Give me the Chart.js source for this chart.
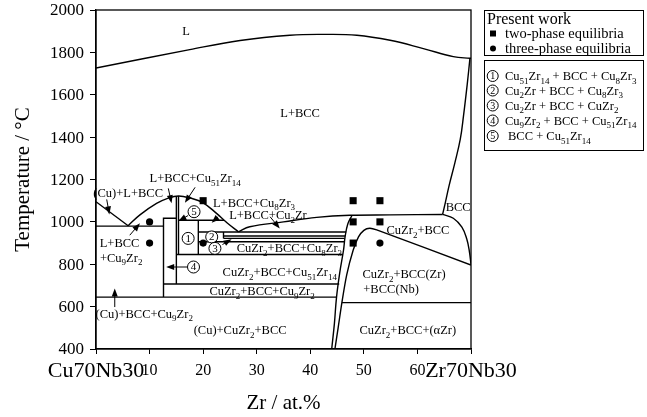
<!DOCTYPE html>
<html>
<head>
<meta charset="utf-8">
<script src="https://cdn.jsdelivr.net/npm/chart.js@4.4.1/dist/chart.umd.min.js"></script>
<style>
  html, body { margin: 0; padding: 0; background: #fff; }
  #wrap { width: 647px; height: 417px; }
</style>
</head>
<body>
<div id="wrap"><canvas id="chart"></canvas></div>
<script>
'use strict';

// Axis ticks
// --------------------------------------------------------------------
const xTicks = [0, 10, 20, 30, 40, 50, 60, 70];
const xTickLabels = ['Cu70Nb30', '10', '20', '30', '40', '50', '60', 'Zr70Nb30'];
const yTicks = [400, 600, 800, 1000, 1200, 1400, 1600, 1800, 2000];

// Phase boundaries  [Zr at.%, T °C]
// --------------------------------------------------------------------
const liquidus = [[0, 1726], [17.5, 1813], [26.9, 1856], [36.2, 1881], [42.4, 1885], [48.7, 1881], [54.9, 1857], [61.1, 1818], [66.7, 1780], [69.8, 1772], [70, 1772]];
const bccSolidus = [[69.8, 1772], [69.3, 1650], [68.6, 1500], [68, 1390], [67, 1280], [65.9, 1170], [65.2, 1090], [64.7, 1035]];
const cuLiquidus = [[0, 1095], [6, 982]];
const peakCurve = [[6, 982], [8.2, 1033], [11.3, 1087], [13.5, 1112], [15.4, 1122], [17.5, 1113], [20, 1090], [22.5, 1040], [24.5, 995], [26.6, 953]];
const cu2ZrCurve = [[26.6, 953], [28.7, 977], [35, 1000], [41.2, 1021], [47.4, 1031], [54.9, 1033], [64.7, 1035]];
const cuzr2BccRight = [[64.7, 1035], [66.7, 1017], [68.3, 975], [69.2, 920], [69.7, 860], [70, 800]];
const domeLine = [[44.6, 400], [45.2, 500], [45.9, 619], [46.8, 750], [48, 866], [49, 929], [50, 960], [51.1, 970], [52.4, 962], [70, 796]];
const cuzr2Left = [[44.0, 400], [44.5, 520], [44.9, 645], [45.5, 760], [46.2, 866], [46.5, 930], [47, 990], [47.8, 1031]];

const straightLines = [
  [[0, 980], [12.6, 980]],
  [[0, 645], [44.9, 645]],
  [[45.9, 619], [70, 619]],
  [[12.6, 645], [12.6, 1017], [15, 1017]],
  [[15, 707], [15, 1122]],
  [[15.4, 846], [15.4, 1122]],
  [[15.4, 1008], [23.9, 1008]],
  [[19.1, 846], [19.1, 1008]],
  [[19.1, 952], [46.7, 952]],
  [[23.8, 922], [23.8, 952]],
  [[23.8, 933], [46.5, 933]],
  [[23.8, 922], [46.4, 922]],
  [[19.1, 906], [46.3, 906]],
  [[15, 846], [46.1, 846]],
  [[12.6, 707], [45.4, 707]]
];

// Experimental points
const twoPhase = [[20, 1100], [48, 1100], [53, 1100], [48, 1000], [53, 1000], [48, 900]];
const threePhase = [[10, 1000], [10, 900], [20, 900], [53, 900]];

// Region labels  (text, Zr at.%, T, align)
const regionLabels = [
  ['L', 16.8, 1903], ['L+BCC', 38.1, 1515], ['BCC', 67.6, 1071],
  ['CuZr_2+BCC', 60.1, 961], ['CuZr_2+BCC(Zr)', 57.5, 753], ['+BCC(Nb)', 49.9, 685, 'left'],
  ['CuZr_2+BCC+(αZr)', 58.2, 488], ['(Cu)+CuZr_2+BCC', 26.9, 488],
  ['(Cu)+BCC+Cu_9Zr_2', 9.0, 567], ['CuZr_2+BCC+Cu_9Zr_2', 31.0, 674],
  ['CuZr_2+BCC+Cu_51Zr_14', 34.3, 764], ['CuZr_2+BCC+Cu_8Zr_3', 36.1, 875],
  ['L+BCC+Cu_2Zr', 32.1, 1032], ['L+BCC+Cu_8Zr_3', 29.5, 1092],
  ['L+BCC+Cu_51Zr_14', 18.5, 1206], ['(Cu)+L+BCC', 6.0, 1135],
  ['L+BCC', 4.4, 901], ['+Cu_9Zr_2', 4.7, 832]
];
const circledLabels = [['1', 17.2, 922], ['2', 21.6, 929], ['3', 22.2, 875], ['4', 18.2, 787], ['5', 18.3, 1048]];
const arrows = [
  [[2.0, 1106], [2.5, 1035]],
  [[13.5, 1158], [14.1, 1088]],
  [[18.5, 1163], [16.6, 1090]],
  [[17.2, 1030], [15.4, 1004]],
  [[22.8, 1024], [21.6, 996]],
  [[32.5, 1024], [34.3, 969]],
  [[6.3, 937], [8.2, 993]],
  [[23.6, 893], [25.3, 918]],
  [[17.1, 787], [13.1, 787]],
  [[3.5, 598], [3.5, 685]]
];
const legendPhases = ['two-phase equilibria', 'three-phase equilibria'];
const legendRegions = ['Cu_51Zr_14 + BCC + Cu_8Zr_3', 'Cu_2Zr + BCC + Cu_8Zr_3', 'Cu_2Zr + BCC + CuZr_2', 'Cu_9Zr_2 + BCC + Cu_51Zr_14', 'BCC + Cu_51Zr_14'];

const FONT = '"Liberation Serif", "DejaVu Serif", serif';
Chart.defaults.font.family = FONT;
Chart.defaults.color = '#000';

function toXY(arr) {
  return arr.map(function (p) { return { x: p[0], y: p[1] }; });
}
function lineSet(arr, tension) {
  return { data: toXY(arr), showLine: true, borderColor: '#000', borderWidth: 1.4, pointRadius: 0, tension: tension || 0, fill: false };
}

const datasets = [
  lineSet(liquidus, 0.4), lineSet(bccSolidus, 0.4), lineSet(cuLiquidus), lineSet(peakCurve, 0.4),
  lineSet(cu2ZrCurve, 0.4), lineSet(cuzr2BccRight, 0.4), lineSet(domeLine, 0.3), lineSet(cuzr2Left, 0.4)
];
straightLines.forEach(function (l) { datasets.push(lineSet(l)); });
datasets.push({ data: toXY(twoPhase), pointStyle: 'rect', pointRadius: 5, backgroundColor: '#000', borderColor: '#000', borderWidth: 0 });
datasets.push({ data: toXY(threePhase), pointStyle: 'circle', pointRadius: 3.6, backgroundColor: '#000', borderColor: '#000', borderWidth: 0 });

// text with _digits as subscripts
function richWidth(ctx, text, size) {
  let w = 0;
  text.split(/(_\d+)/).forEach(function (t) {
    if (!t) return;
    if (t[0] === '_') { ctx.font = (size * 0.72) + 'px ' + FONT; w += ctx.measureText(t.slice(1)).width; }
    else { ctx.font = size + 'px ' + FONT; w += ctx.measureText(t).width; }
  });
  return w;
}
function drawRich(ctx, text, x, y, size, align) {
  const w = richWidth(ctx, text, size);
  let cx = align === 'left' ? x : x - w / 2;
  const base = y + size * 0.33;
  ctx.textAlign = 'left';
  ctx.textBaseline = 'alphabetic';
  text.split(/(_\d+)/).forEach(function (t) {
    if (!t) return;
    if (t[0] === '_') {
      ctx.font = (size * 0.72) + 'px ' + FONT;
      ctx.fillText(t.slice(1), cx, base + size * 0.28);
      cx += ctx.measureText(t.slice(1)).width;
    } else {
      ctx.font = size + 'px ' + FONT;
      ctx.fillText(t, cx, base);
      cx += ctx.measureText(t).width;
    }
  });
}
function circled(ctx, n, x, y, r, size) {
  ctx.beginPath();
  ctx.arc(x, y, r, 0, Math.PI * 2);
  ctx.fillStyle = '#fff';
  ctx.fill();
  ctx.lineWidth = 1;
  ctx.strokeStyle = '#000';
  ctx.stroke();
  ctx.fillStyle = '#000';
  ctx.font = size + 'px ' + FONT;
  ctx.textAlign = 'center';
  ctx.textBaseline = 'middle';
  ctx.fillText(n, x, y + 0.5);
}

const decorPlugin = {
  id: 'decor',
  afterDatasetsDraw: function (chart) {
    const ctx = chart.ctx, a = chart.chartArea;
    const sx = function (v) { return chart.scales.x.getPixelForValue(v); };
    const sy = function (v) { return chart.scales.y.getPixelForValue(v); };
    ctx.save();
    // frame
    ctx.strokeStyle = '#000';
    ctx.lineWidth = 1.3;
    ctx.strokeRect(a.left, a.top, a.right - a.left, a.bottom - a.top);

    // tick labels
    ctx.fillStyle = '#000';
    ctx.textBaseline = 'middle';
    ctx.textAlign = 'right';
    ctx.font = '17px ' + FONT;
    yTicks.forEach(function (v) { ctx.fillText(String(v), a.left - 12, sy(v) + 1); });
    ctx.textAlign = 'center';
    xTicks.forEach(function (v, i) {
      const big = (i === 0 || i === xTicks.length - 1);
      ctx.font = (big ? 22 : 16) + 'px ' + FONT;
      ctx.fillText(xTickLabels[i], sx(v), 371);
    });

    regionLabels.forEach(function (l) { drawRich(ctx, l[0], sx(l[1]), sy(l[2]), 12.5, l[3]); });

    // arrows
    arrows.forEach(function (ar) {
      const x1 = sx(ar[0][0]), y1 = sy(ar[0][1]), x2 = sx(ar[1][0]), y2 = sy(ar[1][1]);
      const ang = Math.atan2(y2 - y1, x2 - x1), hl = 8, hw = 3;
      ctx.beginPath();
      ctx.moveTo(x1, y1);
      ctx.lineTo(x2 - Math.cos(ang) * hl * 0.8, y2 - Math.sin(ang) * hl * 0.8);
      ctx.lineWidth = 1;
      ctx.stroke();
      ctx.beginPath();
      ctx.moveTo(x2, y2);
      ctx.lineTo(x2 - Math.cos(ang) * hl - Math.sin(ang) * hw, y2 - Math.sin(ang) * hl + Math.cos(ang) * hw);
      ctx.lineTo(x2 - Math.cos(ang) * hl + Math.sin(ang) * hw, y2 - Math.sin(ang) * hl - Math.cos(ang) * hw);
      ctx.closePath();
      ctx.fill();
    });

    circledLabels.forEach(function (c) { circled(ctx, c[0], sx(c[1]), sy(c[2]), 6, 11); });

    // axis titles
    ctx.fillStyle = '#000';
    ctx.font = '21px ' + FONT;
    ctx.textAlign = 'center';
    ctx.textBaseline = 'middle';
    ctx.fillText('Zr / at.%', (a.left + a.right) / 2, 403);
    ctx.save();
    ctx.translate(23, (a.top + a.bottom) / 2);
    ctx.rotate(-Math.PI / 2);
    ctx.fillText('Temperature / °C', 0, 0);
    ctx.restore();

    // legend boxes
    ctx.lineWidth = 1;
    ctx.strokeRect(484.5, 10.5, 159, 45);
    ctx.strokeRect(484.5, 60.5, 159, 90);
    ctx.textAlign = 'left';
    ctx.textBaseline = 'middle';
    ctx.font = '16px ' + FONT;
    ctx.fillText('Present work', 487, 19.5);
    ctx.font = '14.5px ' + FONT;
    ctx.fillText(legendPhases[0], 505, 34);
    ctx.fillText(legendPhases[1], 505, 49);
    ctx.fillRect(490, 30.5, 6, 6);
    ctx.beginPath();
    ctx.arc(493, 48.5, 3, 0, Math.PI * 2);
    ctx.fill();
    const rowY = [76, 90.5, 105.5, 120.5, 136];
    legendRegions.forEach(function (t, i) {
      circled(ctx, String(i + 1), 492.7, rowY[i], 5.5, 10);
      ctx.fillStyle = '#000';
      drawRich(ctx, t, i === 4 ? 508 : 505, rowY[i], 12.5, 'left');
    });
    ctx.restore();
  }
};

new Chart(document.getElementById('chart'), {
  type: 'scatter',
  data: { datasets: datasets },
  options: {
    responsive: true,
    maintainAspectRatio: false,
    animation: false,
    layout: { padding: { left: 0, right: 176, top: 10, bottom: 0 } },
    plugins: { legend: { display: false }, tooltip: { enabled: false } },
    scales: {
      x: {
        type: 'linear', min: 0, max: 70,
        afterBuildTicks: function (s) { s.ticks = xTicks.map(function (v) { return { value: v }; }); },
        afterFit: function (s) { s.height = 68; },
        grid: { drawOnChartArea: false, color: '#000', tickLength: 5 },
        border: { color: '#000', width: 1.3 },
        ticks: { display: false }
      },
      y: {
        type: 'linear', min: 400, max: 2000,
        afterBuildTicks: function (s) { s.ticks = yTicks.map(function (v) { return { value: v }; }); },
        afterFit: function (s) { s.width = 96; },
        grid: { drawOnChartArea: false, color: '#000', tickLength: 6 },
        border: { color: '#000', width: 1.3 },
        ticks: { display: false }
      }
    }
  },
  plugins: [decorPlugin]
});
</script>
</body>
</html>
